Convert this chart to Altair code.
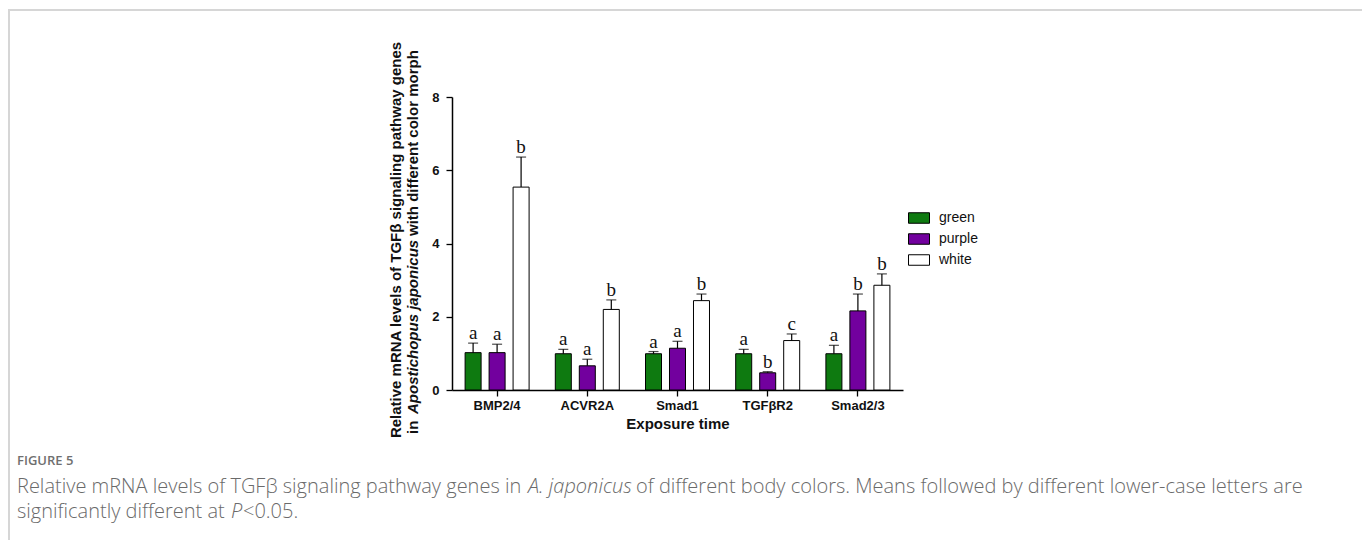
import altair as alt
import pandas as pd

genes = ["BMP2/4", "ACVR2A", "Smad1", "TGFβR2", "Smad2/3"]
morphs = ["green", "purple", "white"]
colors = ["#0e7a10", "#72009e", "#ffffff"]

green_mean = [1.02, 0.99, 0.99, 0.99, 0.99]
green_err = [0.26, 0.12, 0.06, 0.12, 0.23]
purple_mean = [1.02, 0.66, 1.14, 0.47, 2.16]
purple_err = [0.23, 0.18, 0.19, 0.03, 0.46]
white_mean = [5.54, 2.20, 2.44, 1.35, 2.86]
white_err = [0.82, 0.26, 0.18, 0.18, 0.31]
green_letters = ["a", "a", "a", "a", "a"]
purple_letters = ["a", "a", "a", "b", "b"]
white_letters = ["b", "b", "b", "c", "b"]

y_ticks = [0, 2, 4, 6, 8]
x_title = "Exposure time"
y_title_1 = "Relative mRNA levels of TGFβ  signaling pathway genes"
y_title_2 = ["in", "Apostichopus japonicus", "with different color morph"]
fig_label = "FIGURE 5"
cap_1 = ["Relative mRNA levels of TGFβ signaling pathway genes in", "A. japonicus",
         "of different body colors. Means followed by different lower-case letters are"]
cap_2 = ["significantly different at", "P", "<0.05."]

rows = []
for m, means, errs, lets in [("green", green_mean, green_err, green_letters),
                             ("purple", purple_mean, purple_err, purple_letters),
                             ("white", white_mean, white_err, white_letters)]:
    for g, mv, ev, lt in zip(genes, means, errs, lets):
        rows.append({"gene": g, "morph": m, "mean": mv, "upper": mv + ev, "letter": lt})
df = pd.DataFrame(rows)

W, H = 451, 293
PAD_L, PAD_T = 444, 89
PAD_R = 1354 - PAD_L - W
PAD_B = 532 - PAD_T - H

x_enc = alt.X("gene:N", sort=genes,
              scale=alt.Scale(paddingInner=0, paddingOuter=0),
              axis=alt.Axis(title=x_title, labelAngle=0, labelFont="Liberation Sans",
                            labelFontWeight="bold", labelFontSize=13, labelColor="#111",
                            labelPadding=3, tickSize=6, tickColor="black", tickWidth=1.3,
                            domainColor="black", domainWidth=1.5,
                            titleFont="Liberation Sans", titleFontWeight="bold",
                            titleFontSize=15, titleColor="#111", titlePadding=4))
xo_enc = alt.XOffset("morph:N", sort=morphs,
                     scale=alt.Scale(paddingInner=0.333, paddingOuter=0.546))
y_enc = alt.Y("mean:Q", scale=alt.Scale(domain=[0, 8], nice=False),
              axis=alt.Axis(values=y_ticks, format="d", title=None, grid=False,
                            labelFont="Liberation Sans", labelFontWeight="bold",
                            labelFontSize=13, labelColor="#111", labelPadding=7,
                            tickSize=6, tickColor="black", tickWidth=1.3,
                            domainColor="black", domainWidth=1.5))

base = alt.Chart(df)

bars = base.mark_bar(stroke="black", strokeWidth=1).encode(
    x=x_enc, xOffset=xo_enc, y=y_enc,
    color=alt.Color("morph:N", sort=morphs,
                    scale=alt.Scale(domain=morphs, range=colors),
                    legend=alt.Legend(title=None, orient="none", legendX=456, legendY=110,
                                      symbolType="M-1,-0.5H1V0.5H-1Z", symbolSize=441,
                                      symbolStrokeColor="black", symbolStrokeWidth=1,
                                      symbolOpacity=1, labelFont="Liberation Sans",
                                      labelFontSize=14, labelColor="#111",
                                      labelOffset=9, rowPadding=2)),
)

err = base.mark_rule(color="black", strokeWidth=1.2).encode(
    x=alt.X("gene:N", sort=genes), xOffset=alt.XOffset("morph:N", sort=morphs),
    y="mean:Q", y2="upper:Q")
caps = base.mark_tick(orient="horizontal", size=10, thickness=1.2, color="black").encode(
    x=alt.X("gene:N", sort=genes), xOffset=alt.XOffset("morph:N", sort=morphs),
    y="upper:Q")
letters = base.mark_text(font="Liberation Serif", fontSize=19, baseline="alphabetic",
                         dy=-4, color="#111").encode(
    x=alt.X("gene:N", sort=genes), xOffset=alt.XOffset("morph:N", sort=morphs),
    y="upper:Q", text="letter:N")

one = pd.DataFrame({"k": [0]})

def label(text, x, y, **kw):
    return alt.Chart(one).mark_text(**kw).encode(
        x=alt.value(x), y=alt.value(y), text=alt.value(text))

card = alt.Chart(one).mark_rect(fillOpacity=0, stroke="#d6d6d6", strokeWidth=2).encode(
    x=alt.value(-443), x2=alt.value(914), y=alt.value(-87), y2=alt.value(700))

ytitle_kw = dict(angle=270, baseline="middle", align="left", font="Liberation Sans",
                 fontWeight="bold", fontSize=15, color="#111")
yt1 = label(y_title_1, -56, 143, angle=270, baseline="middle", align="center",
            font="Liberation Sans", fontWeight="bold", fontSize=15, color="#111")
yt2a = label(y_title_2[0], -39, 337, **ytitle_kw)
yt2b = label(y_title_2[1], -39, 317, fontStyle="italic", **ytitle_kw)
yt2c = label(y_title_2[2], -39, 139, **ytitle_kw)

cap_kw = dict(align="left", baseline="middle", font="Open Sans", fontSize=20,
              fontWeight=300, color="#6a6a6a")
f5 = label(fig_label, -435, 364, align="left", baseline="middle", font="Open Sans",
           fontSize=13, fontWeight=600, color="#6f6f6f")
c1a = label(cap_1[0], -435, 390, **cap_kw)
c1b = label(cap_1[1], 76, 390, fontStyle="italic", **cap_kw)
c1c = label(cap_1[2], 184, 390, **cap_kw)
c2a = label(cap_2[0], -435, 415, **cap_kw)
c2b = label(cap_2[1], -221, 415, fontStyle="italic", **cap_kw)
c2c = label(cap_2[2], -209, 415, **cap_kw)

chart = alt.layer(card, bars, err, caps, letters, yt1, yt2a, yt2b, yt2c,
                  f5, c1a, c1b, c1c, c2a, c2b, c2c).properties(
    width=W, height=H,
    autosize=alt.AutoSizeParams(type="none"),
    padding={"left": PAD_L, "top": PAD_T, "right": PAD_R, "bottom": PAD_B},
    background="white",
).configure_view(stroke=None)

chart.save("out.html", embed_options={"renderer": "svg", "actions": False})
